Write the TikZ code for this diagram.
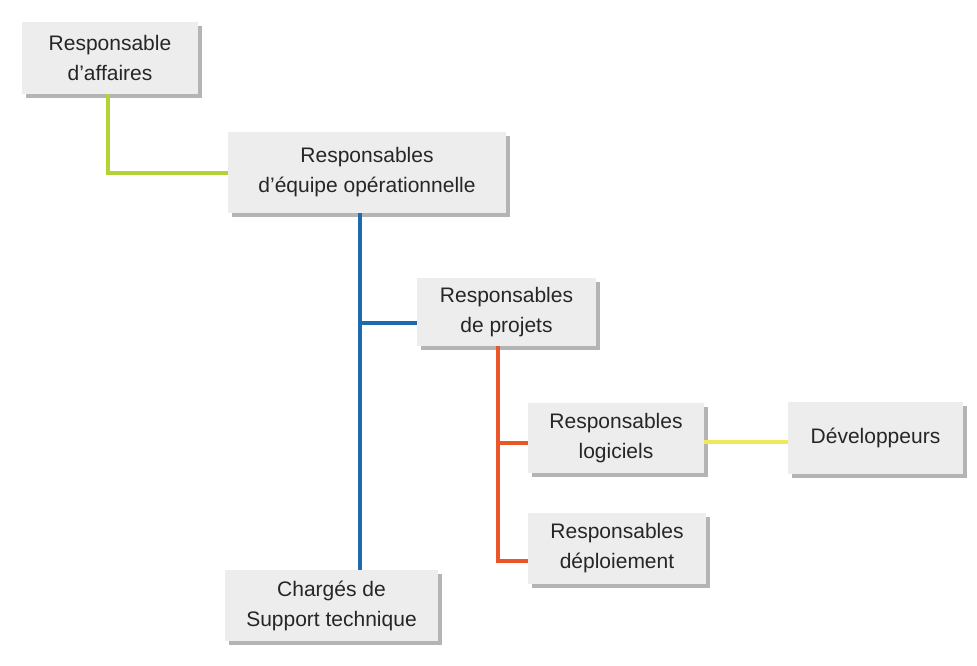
\documentclass[tikz,border=0pt]{standalone}
\usepackage{fontspec}
\setmainfont{Liberation Sans}
\usetikzlibrary{shadows}
\definecolor{boxgray}{HTML}{EDEDED}
\definecolor{shadowgray}{HTML}{B4B4B4}
\definecolor{lvgreen}{HTML}{B2D235}
\definecolor{lvblue}{HTML}{1F6AAE}
\definecolor{lvorange}{HTML}{E8562A}
\definecolor{lvyellow}{HTML}{EEE85A}
\begin{document}
\begin{tikzpicture}[x=1pt,y=-1pt,
  role/.style={fill=boxgray, align=center, inner sep=0pt, text=black!85,
    font=\fontsize{21}{30}\selectfont,
    drop shadow={shadow xshift=4pt, shadow yshift=-4pt, fill=shadowgray, opacity=1}},
  link/.style={line width=4pt}]
\useasboundingbox[fill=white] (0,0) rectangle (977,665);
\node [role, minimum width=176pt, minimum height=72pt] (affaires) at (110,58) {Responsable\\d'affaires};
\node [role, minimum width=278pt, minimum height=81pt] (equipe) at (367,172.5) {Responsables\\d'équipe opérationnelle};
\node [role, minimum width=179pt, minimum height=68pt] (projets) at (506.5,312) {Responsables\\de projets};
\node [role, minimum width=176pt, minimum height=70pt] (logiciels) at (616,438) {Responsables\\logiciels};
\node [role, minimum width=175pt, minimum height=72pt] (dev) at (875.5,438) {Développeurs};
\node [role, minimum width=178pt, minimum height=71pt] (deploi) at (617,548.5) {Responsables\\déploiement};
\node [role, minimum width=213pt, minimum height=71pt] (support) at (331.5,605.5) {Chargés de\\Support technique};
\coordinate (trunk) at (360,323);
\coordinate (fork) at (498,443);
\draw [link, lvgreen] ([xshift=-2pt]affaires.south) |- (equipe.west);
\draw [link, lvblue] (trunk |- equipe.south) -- (trunk |- support.north);
\draw [link, lvblue] (trunk) -- (trunk -| projets.west);
\draw [link, lvorange] (fork |- projets.south) |- ([yshift=-12pt]deploi.west);
\draw [link, lvorange] (fork) -- (fork -| logiciels.west);
\draw [link, lvyellow] ([yshift=-4pt]logiciels.east) -- ([yshift=-4pt]dev.west);
\end{tikzpicture}
\end{document}
